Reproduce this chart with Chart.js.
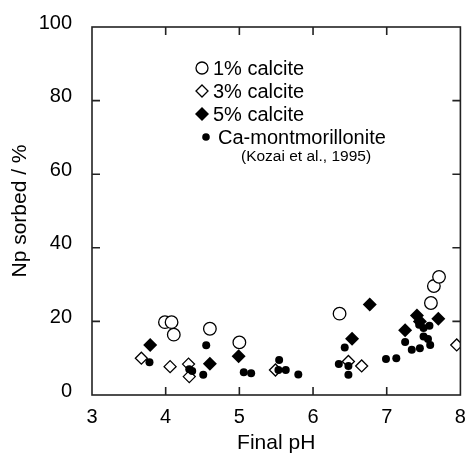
<!DOCTYPE html>
<html>
<head>
<meta charset="utf-8">
<script src="https://cdn.jsdelivr.net/npm/chart.js@4.4.1/dist/chart.umd.min.js"></script>
<style>
html,body{margin:0;padding:0;background:#fff;}
#wrap{width:468px;height:456px;}
</style>
</head>
<body>
<div id="wrap"><canvas id="c" width="468" height="456"></canvas></div>
<script>
// ---- data ----
const xTicks = [3, 4, 5, 6, 7, 8];
const yTicks = [0, 20, 40, 60, 80, 100];
const seriesNames = ["1% calcite", "3% calcite", "5% calcite", "Ca-montmorillonite"];
const legendNote = "(Kozai et al., 1995)";
const xTitle = "Final pH";
const yTitle = "Np sorbed / %";

const calcite1_pH = [3.99, 4.08, 4.11, 4.60, 5.00, 6.36, 7.60, 7.64, 7.71];
const calcite1_sorb = [19.8, 19.8, 16.4, 18.0, 14.3, 22.1, 25.0, 29.6, 32.1];

const calcite3_pH = [3.67, 4.06, 4.31, 4.32, 5.49, 6.48, 6.66, 7.95];
const calcite3_sorb = [10.0, 7.7, 8.4, 5.0, 6.8, 9.1, 7.9, 13.6];

const calcite5_pH = [3.79, 4.60, 4.99, 6.53, 6.77, 7.25, 7.41, 7.45, 7.70];
const calcite5_sorb = [13.6, 8.5, 10.5, 15.3, 24.6, 17.6, 21.6, 20.0, 20.7];

const camont_pH = [3.78, 4.32, 4.36, 4.51, 4.55, 5.06, 5.16, 5.54, 5.53, 5.63, 5.80,
                   6.35, 6.43, 6.48, 6.48, 6.99, 7.13, 7.25, 7.34, 7.45, 7.44, 7.50, 7.58, 7.50, 7.56, 7.59];
const camont_sorb = [8.9, 7.0, 6.5, 5.5, 13.5, 6.2, 5.9, 9.5, 6.8, 6.8, 5.6,
                     8.4, 12.9, 7.9, 5.5, 9.8, 10.0, 14.4, 12.3, 12.7, 19.1, 18.2, 18.8, 15.9, 15.2, 13.6];

function pts(xs, ys){ return xs.map((x,i)=>({x:x, y:ys[i]})); }

const FONT = "'Liberation Sans', Arial, Helvetica, sans-serif";

const framePlugin = {
  id: 'frame',
  afterDraw(chart){
    const ctx = chart.ctx, a = chart.chartArea;
    const xs = chart.scales.x, ys = chart.scales.y;
    ctx.save();
    ctx.strokeStyle = '#222';
    ctx.lineWidth = 1.6;
    ctx.strokeRect(a.left, a.top, a.right - a.left, a.bottom - a.top);
    const tl = 8;
    ctx.beginPath();
    xTicks.forEach(v=>{
      const p = xs.getPixelForValue(v);
      if (v === xTicks[0] || v === xTicks[xTicks.length-1]) return;
      ctx.moveTo(p, a.bottom); ctx.lineTo(p, a.bottom - tl);
      ctx.moveTo(p, a.top); ctx.lineTo(p, a.top + tl);
    });
    yTicks.forEach(v=>{
      const p = ys.getPixelForValue(v);
      if (v === yTicks[0] || v === yTicks[yTicks.length-1]) return;
      ctx.moveTo(a.left, p); ctx.lineTo(a.left + tl, p);
      ctx.moveTo(a.right, p); ctx.lineTo(a.right - tl, p);
    });
    ctx.stroke();

    // legend
    ctx.fillStyle = '#000';
    ctx.strokeStyle = '#000';
    ctx.lineWidth = 1.3;
    ctx.textBaseline = 'middle';
    ctx.textAlign = 'left';
    ctx.font = '20px ' + FONT;
    const rows = [68, 91, 114, 137];
    const mx = 202;
    // open circle
    ctx.beginPath(); ctx.arc(mx, rows[0], 6, 0, Math.PI*2); ctx.stroke();
    // open diamond
    ctx.beginPath(); ctx.moveTo(mx, rows[1]-6); ctx.lineTo(mx+6, rows[1]); ctx.lineTo(mx, rows[1]+6); ctx.lineTo(mx-6, rows[1]); ctx.closePath(); ctx.stroke();
    // filled diamond
    ctx.beginPath(); ctx.moveTo(mx, rows[2]-7); ctx.lineTo(mx+7, rows[2]); ctx.lineTo(mx, rows[2]+7); ctx.lineTo(mx-7, rows[2]); ctx.closePath(); ctx.fill();
    // dot
    ctx.beginPath(); ctx.arc(mx+4, rows[3], 3.8, 0, Math.PI*2); ctx.fill();
    ctx.fillText(seriesNames[0], 213, rows[0]+1);
    ctx.fillText(seriesNames[1], 213, rows[1]+1);
    ctx.fillText(seriesNames[2], 213, rows[2]+1);
    ctx.fillText(seriesNames[3], 218, rows[3]+1);
    ctx.font = '15.5px ' + FONT;
    ctx.fillText(legendNote, 241, 157);
    ctx.restore();
  }
};

new Chart(document.getElementById('c'), {
  type: 'scatter',
  data: {
    datasets: [
      { label: seriesNames[3], data: pts(camont_pH, camont_sorb), pointStyle: 'circle', pointRadius: 4, backgroundColor: '#000', borderColor: '#000', borderWidth: 0 },
      { label: seriesNames[2], data: pts(calcite5_pH, calcite5_sorb), pointStyle: 'rectRot', pointRadius: 7, backgroundColor: '#000', borderColor: '#000', borderWidth: 0 },
      { label: seriesNames[1], data: pts(calcite3_pH, calcite3_sorb), pointStyle: 'rectRot', pointRadius: 6, backgroundColor: '#fff', borderColor: '#000', borderWidth: 1.3 },
      { label: seriesNames[0], data: pts(calcite1_pH, calcite1_sorb), pointStyle: 'circle', pointRadius: 6.3, backgroundColor: '#fff', borderColor: '#000', borderWidth: 1.3 }
    ]
  },
  options: {
    responsive: false,
    animation: false,
    layout: { padding: { top: 27, right: 7, left: 0, bottom: 0 } },
    plugins: { legend: { display: false }, tooltip: { enabled: false } },
    scales: {
      x: {
        type: 'linear', min: 3, max: 8,
        afterBuildTicks: s => { s.ticks = xTicks.map(v=>({value:v})); },
        afterFit: s => { s.height = 61; },
        grid: { display: false },
        border: { display: false },
        ticks: { color: '#000', font: { family: FONT, size: 20 }, padding: 2, maxRotation: 0, autoSkip: false },
        title: { display: true, text: xTitle, color: '#000', font: { family: FONT, size: 21 }, padding: { top: 2, bottom: 0 } }
      },
      y: {
        type: 'linear', min: 0, max: 100,
        afterBuildTicks: s => { s.ticks = yTicks.map(v=>({value:v})); },
        afterFit: s => { s.width = 92; },
        grid: { display: false },
        border: { display: false },
        ticks: { color: '#000', font: { family: FONT, size: 20 }, padding: 12, autoSkip: false, labelOffset: -4 },
        title: { display: true, text: yTitle, color: '#000', font: { family: FONT, size: 21 }, padding: { top: 8, bottom: 0 } }
      }
    }
  },
  plugins: [framePlugin]
});
</script>
</body>
</html>
